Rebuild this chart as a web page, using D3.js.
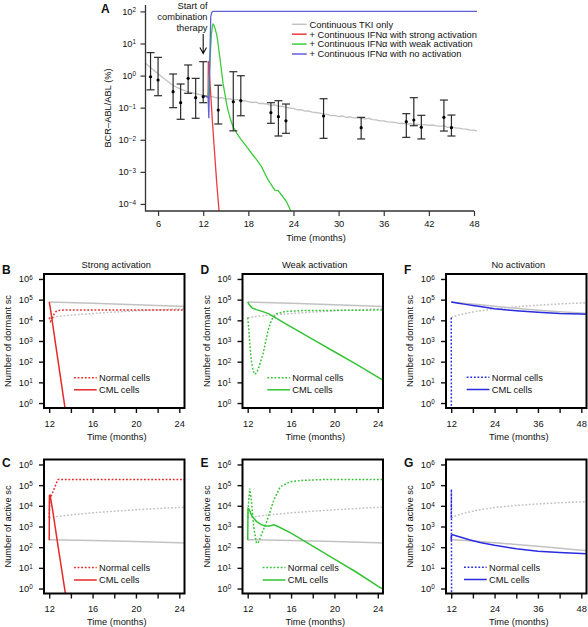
<!DOCTYPE html>
<html><head><meta charset="utf-8">
<script src="https://cdn.jsdelivr.net/npm/d3@7/dist/d3.min.js"></script>
<style>
body{margin:0;background:#fff;}
svg text{font-family:"Liberation Sans",Arial,Helvetica,sans-serif;fill:#111;}
</style></head><body>
<svg id="chart" width="588" height="627"></svg>
<script>
// ================= DATA: panel A =================
const ptMonths = [5,6,8,9,10,11,12,14,16,17,21,22,23,28,33,39,40,41,44,45];
const ptValues = [0.92,0.73,0.315,0.143,0.82,0.205,0.22,0.0845,0.153,0.165,0.0697,0.0524,0.039,0.055,0.0238,0.0366,0.0413,0.0244,0.05,0.0238];
const ptLow    = [0.36,0.236,0.10,0.0435,0.28,0.0467,0.143,0.031,0.019,0.056,0.0326,0.0131,0.0159,0.0111,0.0106,0.0119,0.0274,0.0106,0.0187,0.0131];
const ptHigh   = [5.2,3.7,1.12,0.547,2.14,0.82,2.71,0.5,1.32,0.99,0.143,0.165,0.13,0.19,0.05,0.065,0.205,0.0578,0.173,0.059];

const tkiMonths = [4.3,5,6,7,8,9,10,11,12,13,
  14,14.5,15,15.5,16,16.5,17,17.5,18,18.5,19,19.5,20,20.5,21,21.5,22,22.5,23,23.5,24,24.5,25,25.5,26,26.5,27,27.5,28,28.5,29,29.5,30,30.5,31,31.5,
  32,32.5,33,33.5,34,34.5,35,35.5,36,36.5,37,37.5,38,38.5,39,39.5,40,40.5,41,41.5,42,42.5,43,43.5,44,44.5,45,45.5,46,46.5,47,47.5,48,48.4];
const tkiValues = [2.51,1.74,1.15,0.741,0.49,0.38,0.309,0.275,0.24,0.224,
  0.2,0.204,0.186,0.191,0.174,0.182,0.162,0.166,0.155,0.145,0.148,0.135,0.135,0.129,0.117,0.123,0.110,0.112,0.102,0.0977,0.0955,0.0851,0.0871,0.0776,0.0794,0.0724,0.0708,0.0676,0.0631,0.0617,0.0562,0.0575,0.0525,0.0550,0.0501,0.0513,
  0.0479,0.0490,0.0468,0.0447,0.0468,0.0427,0.0417,0.0389,0.0389,0.0363,0.0355,0.0347,0.0324,0.0331,0.0309,0.0316,0.0302,0.0309,0.0288,0.0295,0.0282,0.0288,0.0269,0.0263,0.0269,0.0245,0.0251,0.0234,0.0229,0.0219,0.0214,0.0200,0.0200,0.0186];

const strongMonths = [12,12.65,12.68,12.75,13.24,13.77,14.25];
const strongValues = [0.24,0.215,2.85,2.3,0.0326,0.00056,0.000024];
const weakMonths = [12,12.65,12.8,12.95,13.1,13.25,13.31,13.45,13.6,13.85,14.2,14.64,15.18,15.6,15.97,16.5,17.09,17.75,18.42,19.1,19.75,20.63,21.52,21.96,22.5,23.08,23.65,23.9];
const weakValues = [0.24,0.215,0.8,5,20,38,40.5,36,28,16.3,3.9,0.57,0.107,0.045,0.0255,0.0155,0.0098,0.0062,0.0038,0.0024,0.00145,0.00056,0.00027,0.00026,0.00018,0.000117,0.00006,0.000045];
const noneMonths = [12,12.65,12.75,12.87,13.0,13.15,13.31,48.4];
const noneValues = [0.24,0.215,0.047,1.9,68,95,100,100];

const xTicksA = [6,12,18,24,30,36,42,48];
const yTicksA = [1e2,1e1,1e0,1e-1,1e-2,1e-3,1e-4];
const legendLabelsA = ["Continuous TKI only","+ Continuous IFN\u03b1 with strong activation","+ Continuous IFN\u03b1 with weak activation","+ Continuous IFN\u03b1 with no activation"];
const annotationLines = ["Start of","combination","therapy"];

// ================= DATA: panels B-G =================
const panelTitles = ["Strong activation","Weak activation","No activation"];
const legendLabelsSmall = ["Normal cells","CML cells"];
const yTicksSmall = [1e0,1e1,1e2,1e3,1e4,1e5,1e6];
const xTicksShort = [12,14,16,18,20,22,24];
const xLabelsShort = [12,16,20,24];
const xTicksLong = [12,18,24,30,36,42,48];
const xLabelsLong = [12,24,36,48];

// TKI only (grey reference)
const tkiDormCMLMonths = [12,16,20,24,30,36,42,48,50];
const tkiDormCML = [7.6e4,6.6e4,5.6e4,4.8e4,3.8e4,3.1e4,2.6e4,2.24e4,2.14e4];
const tkiDormNormMonths = [12,13,14,16,18,20,24,30,36,42,48,50];
const tkiDormNorm = [1.35e4,1.58e4,1.78e4,2.14e4,2.5e4,2.9e4,3.55e4,4.5e4,5.4e4,6.2e4,6.9e4,7.1e4];
const tkiActCMLMonths = [12,16,20,24,30,36,42,48,50];
const tkiActCML = [230,210,186,162,135,110,89,72,68];
const tkiActNormMonths = [12,13,14,16,18,20,22,24,30,36,42,48,50];
const tkiActNorm = [2630,3160,3630,4570,5500,6460,7410,8320,10500,12300,14100,15500,15800];

// Strong activation
const strongDormCMLMonths = [12,12.1,12.8,13.6];
const strongDormCML = [7.8e4,4.0e4,126,0.18];
const strongDormNormMonths = [12,12.12,12.25,12.45,12.65,12.85,13.5,25];
const strongDormNorm = [1.35e4,8.9e3,1.12e4,2.0e4,2.7e4,3.0e4,3.16e4,3.16e4];
const strongActCMLMonths = [12,12.02,12.08,12.3,12.83,13.6];
const strongActCML = [214,3.16e4,3.3e4,7.1e3,100,0.25];
const strongActNormMonths = [12,12.05,12.3,12.55,12.8,25];
const strongActNorm = [2630,2.0e4,4.2e4,8.9e4,1.86e5,1.86e5];

// Weak activation
const weakDormCMLMonths = [12,12.15,12.4,12.8,13.4,13.9,14.3,16,18,20,22,24,25];
const weakDormCML = [7.8e4,5.6e4,4.0e4,3.3e4,2.63e4,2.1e4,1.58e4,4.8e3,1.2e3,302,76,17.8,8.9];
const weakDormNormMonths = [12,12.1,12.2,12.35,12.5,12.66,12.85,13.1,13.42,13.88,14.2,14.66,15.5,17,25];
const weakDormNorm = [1.35e4,4.0e3,631,100,35.5,24.5,30.2,70.8,245,3.31e3,1.07e4,2.09e4,2.69e4,2.95e4,3.16e4];
const weakActCMLMonths = [12,12.03,12.1,12.4,12.8,13.2,13.6,14.0,14.4,14.8,16,18,20,22,24,25];
const weakActCML = [214,7.4e3,7.1e3,3.16e3,1.78e3,1.26e3,1.07e3,1.05e3,1.2e3,1.0e3,479,112,26.3,6.3,1.32,0.63];
const weakActNormMonths = [12,12.1,12.19,12.35,12.55,12.81,13.0,13.3,13.8,14.4,15.0,15.9,17,19,25];
const weakActNorm = [2630,2.0e4,6.9e4,1.58e4,1000,151,178,447,2.0e3,1.86e4,8.3e4,1.45e5,1.7e5,1.86e5,1.9e5];

// No activation
const noneDormCMLMonths = [12,14,16,18,20,24,30,36,42,48,50];
const noneDormCML = [7.6e4,6.7e4,5.9e4,5.2e4,4.6e4,3.6e4,2.9e4,2.45e4,2.15e4,2.0e4,1.95e4];
const noneDormNormMonths = [12,12.05];
const noneDormNorm = [1.35e4,0.1];
const noneActCMLMonths = [12,12.05,12.35,14,17,20,24,30,36,42,48,50];
const noneActCML = [214,380,400,331,229,170,123,83,63,55,49,48];
const noneActNormMonths = [12,12.05,12.1];
const noneActNorm = [2630,6.3e4,0.1];

// ================= STYLE =================
const GREY = "#c2c2c2";
const RED = "#e52a2a", GREEN = "#35c335", BLUE = "#2b2be0";
const RED_A = "#ec3b3b", GREEN_A = "#3ccc3c", BLUE_A = "#6060d8";
const FS = 9.3;

const svg = d3.select("#chart");
const defs = svg.append("defs");

function supLabels(g) {
  g.selectAll(".tick text").each(function(d){
    const t = d3.select(this);
    const e = Math.round(Math.log10(d));
    t.text(null);
    t.append("tspan").text("10");
    t.append("tspan").attr("dy","-0.42em").attr("font-size","0.68em").text(e < 0 ? "\u2212" + (-e) : String(e));
  });
}

// ================= PANEL A =================
(function(){
  const x = d3.scaleLinear().domain([4.33, 48]).range([145.5, 474]);
  const y = d3.scaleLog().domain([Math.pow(10,-4.22), Math.pow(10,2.2)]).range([211, 5]);
  const g = svg.append("g");
  defs.append("clipPath").attr("id","clipA").append("rect")
    .attr("x",145.5).attr("y",0).attr("width",340).attr("height",211);
  const line = d3.line().x(d=>x(d[0])).y(d=>y(d[1]));
  const lg = g.append("g").attr("clip-path","url(#clipA)");
  lg.append("path").datum(d3.zip(tkiMonths,tkiValues)).attr("d",line)
    .attr("fill","none").attr("stroke",GREY).attr("stroke-width",1.3);

  const pts = d3.range(ptMonths.length).map(i=>({m:ptMonths[i],v:ptValues[i],lo:ptLow[i],hi:ptHigh[i]}));
  const eb = g.append("g").attr("stroke","#2b2b2b").attr("stroke-width",1.2);
  pts.forEach(p=>{
    eb.append("line").attr("x1",x(p.m)).attr("x2",x(p.m)).attr("y1",y(p.lo)).attr("y2",y(p.hi));
    eb.append("line").attr("x1",x(p.m)-4).attr("x2",x(p.m)+4).attr("y1",y(p.lo)).attr("y2",y(p.lo));
    eb.append("line").attr("x1",x(p.m)-4).attr("x2",x(p.m)+4).attr("y1",y(p.hi)).attr("y2",y(p.hi));
  });

  [[strongMonths,strongValues,RED_A],[weakMonths,weakValues,GREEN_A],[noneMonths,noneValues,BLUE_A]].forEach(s=>{
    lg.append("path").datum(d3.zip(s[0],s[1])).attr("d",line)
      .attr("fill","none").attr("stroke",s[2]).attr("stroke-width",1.3);
  });
  g.append("g").selectAll("circle").data(pts).join("circle")
    .attr("cx",d=>x(d.m)).attr("cy",d=>y(d.v)).attr("r",1.6).attr("fill","#000");

  const ax = g.append("g").attr("transform","translate(0,211)")
    .call(d3.axisBottom(x).tickValues(xTicksA).tickSize(5).tickPadding(4));
  ax.select(".domain").remove();
  ax.attr("font-size",FS).attr("font-family",null);
  ax.selectAll(".tick line").attr("stroke","#333").attr("stroke-width",1.2);
  const ay = g.append("g").attr("transform","translate(145.5,0)")
    .call(d3.axisLeft(y).tickValues(yTicksA).tickSize(5).tickPadding(4.5));
  ay.select(".domain").remove();
  ay.attr("font-size",FS).attr("font-family",null);
  ay.selectAll(".tick line").attr("stroke","#333").attr("stroke-width",1.2);
  supLabels(ay);
  g.append("path").attr("d","M145.5,5V211H474").attr("fill","none").attr("stroke","#333").attr("stroke-width",1.3);

  g.append("text").attr("x",316).attr("y",240.5).attr("text-anchor","middle").attr("font-size",FS).text("Time (months)");
  g.append("text").attr("transform","translate(111,108) rotate(-90)").attr("text-anchor","middle").attr("font-size",FS).text("BCR\u2013ABL/ABL (%)");
  g.append("text").attr("x",101).attr("y",13).attr("font-size",12).attr("font-weight","bold").text("A");

  annotationLines.forEach((t,i)=>{
    g.append("text").attr("x",207.5).attr("y",9+i*11).attr("text-anchor","end").attr("font-size",FS).text(t);
  });
  const ax0 = x(12);
  g.append("path").attr("d",`M${ax0},34V53.5M${ax0-3.3},47.5L${ax0},53.5L${ax0+3.3},47.5`)
    .attr("fill","none").attr("stroke","#111").attr("stroke-width",1.1);

  const lc = [GREY,RED_A,GREEN_A,BLUE_A];
  legendLabelsA.forEach((t,i)=>{
    const yy = 24.3 + i*9.9;
    g.append("line").attr("x1",292).attr("x2",306.7).attr("y1",yy).attr("y2",yy).attr("stroke",lc[i]).attr("stroke-width",1.5);
    g.append("text").attr("x",309.5).attr("y",yy+3.3).attr("font-size",FS).text(t);
  });
})();

// ================= PANELS B-G =================
const W = 140.5, H = 134;
function drawSmall(p){
  const x = d3.scaleLinear().domain(p.xDomain).range([p.left, p.left+W]);
  const y = d3.scaleLog().domain([Math.pow(10,-0.24), Math.pow(10,6.24)]).range([p.top+H, p.top]);
  const g = svg.append("g");
  defs.append("clipPath").attr("id","clip"+p.letter).append("rect")
    .attr("x",p.left).attr("y",p.top).attr("width",W).attr("height",H);
  const line = d3.line().x(d=>x(d[0])).y(d=>y(d[1]));
  const lg = g.append("g").attr("clip-path",`url(#clip${p.letter})`);
  p.series.forEach(s=>{
    lg.append("path").datum(d3.zip(s.m,s.v)).attr("d",line).attr("fill","none")
      .attr("stroke",s.c).attr("stroke-width",1.5)
      .attr("stroke-dasharray",s.dash?"1.8,1.8":null);
  });
  const ax = g.append("g").attr("transform",`translate(0,${p.top+H})`)
    .call(d3.axisBottom(x).tickValues(p.xTicks).tickSize(5).tickPadding(7.3)
      .tickFormat(d=>p.xLabels.includes(d)?d:""));
  ax.select(".domain").remove();
  ax.attr("font-size",FS).attr("font-family",null);
  ax.selectAll(".tick line").attr("stroke","#111").attr("stroke-width",1.4);
  const ay = g.append("g").attr("transform",`translate(${p.left},0)`)
    .call(d3.axisLeft(y).tickValues(yTicksSmall).tickSize(5).tickPadding(6.3));
  ay.select(".domain").remove();
  ay.attr("font-size",FS).attr("font-family",null);
  ay.selectAll(".tick line").attr("stroke","#111").attr("stroke-width",1.4);
  supLabels(ay);
  g.append("rect").attr("x",p.left).attr("y",p.top).attr("width",W).attr("height",H)
    .attr("fill","none").attr("stroke","#000").attr("stroke-width",2);

  const l1 = p.left + p.legDx;
  [[p.legY[0],true,legendLabelsSmall[0]],[p.legY[1],false,legendLabelsSmall[1]]].forEach(r=>{
    g.append("line").attr("x1",l1).attr("x2",l1+22.7).attr("y1",r[0]).attr("y2",r[0])
      .attr("stroke",p.color).attr("stroke-width",1.5).attr("stroke-dasharray",r[1]?"1.8,1.8":null);
    g.append("text").attr("x",l1+25).attr("y",r[0]+3.3).attr("font-size",FS).text(r[2]);
  });
  if (p.title) g.append("text").attr("x",p.left+W/2+2).attr("y",p.top-6).attr("text-anchor","middle").attr("font-size",FS).text(p.title);
  g.append("text").attr("x",p.left+W/2+2.5).attr("y",p.top+H+31.5).attr("text-anchor","middle").attr("font-size",FS).text("Time (months)");
  g.append("text").attr("transform",`translate(${p.left-33},${p.top+H/2}) rotate(-90)`).attr("text-anchor","middle").attr("font-size",FS).text(p.ylabel);
  g.append("text").attr("x",p.left-42).attr("y",p.top+(p.top<400?-0.5:7)).attr("font-size",12).attr("font-weight","bold").text(p.letter);
}

const colLeft = [44, 242.5, 446];
const rowTop = [274, 459.5];
const dormLabel = "Number of dormant sc", actLabel = "Number of active sc";
const shortDom = [11.52, 24.48], longDom = [10.56, 49.44];

function greyDorm(){ return [
  {m:tkiDormNormMonths,v:tkiDormNorm,c:GREY,dash:true},
  {m:tkiDormCMLMonths,v:tkiDormCML,c:GREY,dash:false}]; }
function greyAct(){ return [
  {m:tkiActNormMonths,v:tkiActNorm,c:GREY,dash:true},
  {m:tkiActCMLMonths,v:tkiActCML,c:GREY,dash:false}]; }

drawSmall({letter:"B",left:colLeft[0],top:rowTop[0],xDomain:shortDom,xTicks:xTicksShort,xLabels:xLabelsShort,
  title:panelTitles[0],ylabel:dormLabel,color:RED,legDx:30,legY:[377.7,389.8],
  series:greyDorm().concat([{m:strongDormNormMonths,v:strongDormNorm,c:RED,dash:true},{m:strongDormCMLMonths,v:strongDormCML,c:RED,dash:false}])});
drawSmall({letter:"C",left:colLeft[0],top:rowTop[1],xDomain:shortDom,xTicks:xTicksShort,xLabels:xLabelsShort,
  ylabel:actLabel,color:RED,legDx:30,legY:[567.5,580],
  series:greyAct().concat([{m:strongActNormMonths,v:strongActNorm,c:RED,dash:true},{m:strongActCMLMonths,v:strongActCML,c:RED,dash:false}])});
drawSmall({letter:"D",left:colLeft[1],top:rowTop[0],xDomain:shortDom,xTicks:xTicksShort,xLabels:xLabelsShort,
  title:panelTitles[1],ylabel:dormLabel,color:GREEN,legDx:24.8,legY:[377.7,389.8],
  series:greyDorm().concat([{m:weakDormNormMonths,v:weakDormNorm,c:GREEN,dash:true},{m:weakDormCMLMonths,v:weakDormCML,c:GREEN,dash:false}])});
drawSmall({letter:"E",left:colLeft[1],top:rowTop[1],xDomain:shortDom,xTicks:xTicksShort,xLabels:xLabelsShort,
  ylabel:actLabel,color:GREEN,legDx:20.2,legY:[567.5,580],
  series:greyAct().concat([{m:weakActNormMonths,v:weakActNorm,c:GREEN,dash:true},{m:weakActCMLMonths,v:weakActCML,c:GREEN,dash:false}])});
drawSmall({letter:"F",left:colLeft[2],top:rowTop[0],xDomain:longDom,xTicks:xTicksLong,xLabels:xLabelsLong,
  title:panelTitles[2],ylabel:dormLabel,color:BLUE,legDx:20.7,legY:[377.2,389.5],
  series:greyDorm().concat([{m:noneDormNormMonths,v:noneDormNorm,c:BLUE,dash:true},{m:noneDormCMLMonths,v:noneDormCML,c:BLUE,dash:false}])});
drawSmall({letter:"G",left:colLeft[2],top:rowTop[1],xDomain:longDom,xTicks:xTicksLong,xLabels:xLabelsLong,
  ylabel:actLabel,color:BLUE,legDx:18,legY:[567.2,579.5],
  series:greyAct().concat([{m:noneActNormMonths,v:noneActNorm,c:BLUE,dash:true},{m:noneActCMLMonths,v:noneActCML,c:BLUE,dash:false}])});
</script></body></html>
